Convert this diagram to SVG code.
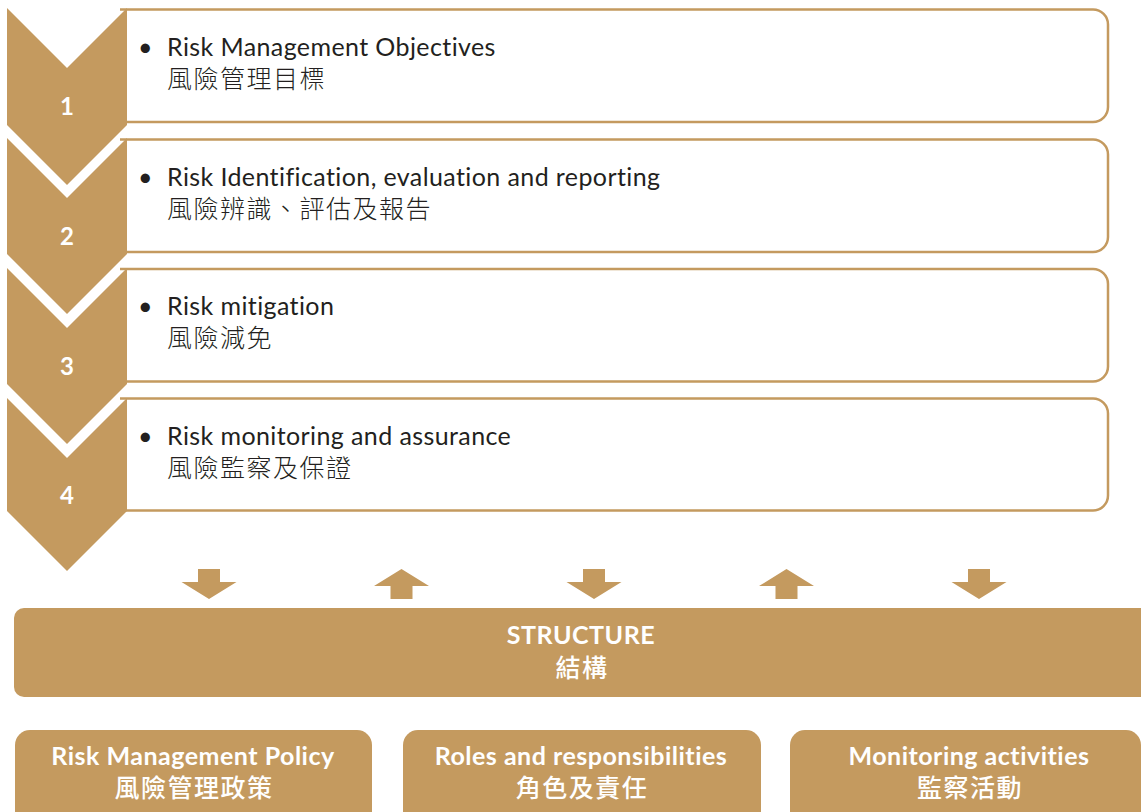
<svg xmlns="http://www.w3.org/2000/svg" width="1141" height="812" viewBox="0 0 1141 812">
<style>
.br{fill:#C49A5F}
.box{fill:#FFFFFF;stroke:#C49A5F;stroke-width:2.5}
.en{font-family:Lato,"Open Sans","Liberation Sans",sans-serif;font-size:25px;letter-spacing:0.4px;fill:#231F20}
.zh{font-family:"Noto Sans CJK TC","Noto Sans CJK SC",sans-serif;font-size:25px;letter-spacing:1.5px;fill:#231F20;font-weight:300}
.num{font-family:Lato,"Liberation Sans",sans-serif;font-size:24px;font-weight:bold;fill:#FFFFFF;text-anchor:middle}
.wen{font-family:Lato,"Liberation Sans",sans-serif;font-size:25px;letter-spacing:0.5px;font-weight:bold;fill:#FFFFFF;text-anchor:middle}
.wzh{font-family:"Noto Sans CJK TC","Noto Sans CJK SC",sans-serif;font-size:25px;letter-spacing:1.5px;font-weight:500;fill:#FFFFFF;text-anchor:middle}
</style>
<rect width="1141" height="812" fill="#FFFFFF"/>
<g id="step1">
<path class="box" d="M120,9.5 H1093 A15,15 0 0 1 1108,24.5 V107 A15,15 0 0 1 1093,122 H120"/>
<polygon class="br" points="7,8 67,68 127,8 127,125 67,185 7,125"/>
<text class="num" x="67" y="115">1</text>
<text class="en" x="138" y="56">•</text>
<text class="en" x="167" y="56">Risk Management Objectives</text>
<text class="zh" x="167" y="88">風險管理目標</text>
</g>
<g id="step2">
<path class="box" d="M120,139.5 H1093 A15,15 0 0 1 1108,154.5 V237 A15,15 0 0 1 1093,252 H120"/>
<polygon class="br" points="7,138 67,198 127,138 127,254 67,314 7,254"/>
<text class="num" x="67" y="245">2</text>
<text class="en" x="138" y="186">•</text>
<text class="en" x="167" y="186">Risk Identification, evaluation and reporting</text>
<text class="zh" x="167" y="218">風險辨識、評估及報告</text>
</g>
<g id="step3">
<path class="box" d="M120,269 H1093 A15,15 0 0 1 1108,284 V366.5 A15,15 0 0 1 1093,381.5 H120"/>
<polygon class="br" points="7,268 67,328 127,268 127,384 67,444 7,384"/>
<text class="num" x="67" y="375">3</text>
<text class="en" x="138" y="315">•</text>
<text class="en" x="167" y="315">Risk mitigation</text>
<text class="zh" x="167" y="347">風險減免</text>
</g>
<g id="step4">
<path class="box" d="M120,398.5 H1093 A15,15 0 0 1 1108,413.5 V495.5 A15,15 0 0 1 1093,510.5 H120"/>
<polygon class="br" points="7,398 67,458 127,398 127,511 67,571 7,511"/>
<text class="num" x="67" y="504">4</text>
<text class="en" x="138" y="445">•</text>
<text class="en" x="167" y="445">Risk monitoring and assurance</text>
<text class="zh" x="167" y="477">風險監察及保證</text>
</g>
<g id="connectors">
<polygon class="br" points="198,569 220,569 220,582 236.5,582 209,599 181.5,582 198,582"/>
<polygon class="br" points="401.5,569 429,586 412.5,586 412.5,599 390.5,599 390.5,586 374,586"/>
<polygon class="br" points="583,569 605,569 605,582 621.5,582 594,599 566.5,582 583,582"/>
<polygon class="br" points="786.5,569 814,586 797.5,586 797.5,599 775.5,599 775.5,586 759,586"/>
<polygon class="br" points="968,569 990,569 990,582 1006.5,582 979,599 951.5,582 968,582"/>
</g>
<g id="structure">
<rect class="br" x="14" y="608" width="1137" height="89" rx="10"/>
<text class="wen" x="581" y="644">STRUCTURE</text>
<text class="wzh" x="582" y="677">結構</text>
</g>
<g id="policy">
<rect class="br" x="15" y="730" width="357" height="100" rx="15"/>
<text class="wen" x="193" y="765">Risk Management Policy</text>
<text class="wzh" x="194" y="797">風險管理政策</text>
</g>
<g id="roles">
<rect class="br" x="403" y="730" width="358" height="100" rx="15"/>
<text class="wen" x="581" y="765">Roles and responsibilities</text>
<text class="wzh" x="582" y="797">角色及責任</text>
</g>
<g id="monitoring">
<rect class="br" x="790" y="730" width="351" height="100" rx="15"/>
<text class="wen" x="969" y="765">Monitoring activities</text>
<text class="wzh" x="970" y="797">監察活動</text>
</g>
</svg>
